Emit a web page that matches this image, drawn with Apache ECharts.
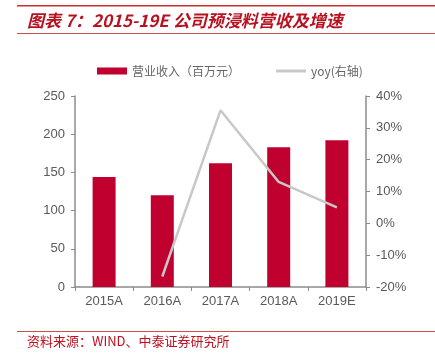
<!DOCTYPE html>
<html><head><meta charset="utf-8">
<script src="https://cdn.jsdelivr.net/npm/echarts@6/dist/echarts.min.js"></script>
<style>html,body{margin:0;padding:0;background:#fff}#c{width:435px;height:355px}</style>
</head><body><div id="c"></div>
<script>
const categories = ['2015A','2016A','2017A','2018A','2019E'];
const revenue = [144, 120, 162, 183, 192];
const yoy = [null, -16.7, 35.5, 13.0, 5.0];
const leftTicks = [0, 250, 50];
const rightTicks = [-20, 40, 10];

const chart = echarts.init(document.getElementById('c'));
const red = '#c0002f';
const gray = '#595959';
chart.setOption({
  animation: false,
  textStyle: { fontFamily: 'Liberation Sans, Arial, sans-serif' },
  grid: { left: 75, right: 69, top: 96, bottom: 68 },
  legend: {
    top: 60, left: 92, itemGap: 36, itemWidth: 30, itemHeight: 7,
    textStyle: { color: '#666', fontSize: 12, fontFamily: 'Noto Sans CJK SC' },
    data: [
      { name: '营业收入（百万元）', icon: 'rect' },
      { name: 'yoy(右轴)', icon: 'path://M0,0L30,0L30,3L0,3Z', itemStyle: { color: '#c8c8c8' } }
    ]
  },
  xAxis: {
    type: 'category', data: categories,
    axisLine: { lineStyle: { color: '#8c8c8c', width: 1.5 } },
    axisTick: { show: true, alignWithLabel: false, length: 4, lineStyle: { color: '#8c8c8c' } },
    axisLabel: { color: gray, fontSize: 13, margin: 8 }
  },
  yAxis: [{
    type: 'value', min: leftTicks[0], max: leftTicks[1], interval: leftTicks[2],
    axisLine: { show: true, lineStyle: { color: '#8c8c8c', width: 1.5 } },
    axisTick: { show: true, length: 4, lineStyle: { color: '#8c8c8c' } },
    splitLine: { show: false },
    axisLabel: { color: gray, fontSize: 13, margin: 10 }
  }, {
    type: 'value', min: rightTicks[0], max: rightTicks[1], interval: rightTicks[2],
    axisLine: { show: true, lineStyle: { color: '#8c8c8c', width: 1.5 } },
    axisTick: { show: true, length: 4, lineStyle: { color: '#8c8c8c' } },
    splitLine: { show: false },
    axisLabel: { color: gray, fontSize: 13, margin: 10, formatter: v => v + '%' }
  }],
  series: [{
    name: '营业收入（百万元）', type: 'bar', data: revenue, barWidth: 23,
    itemStyle: { color: red }
  }, {
    name: 'yoy(右轴)', type: 'line', yAxisIndex: 1, data: yoy,
    symbol: 'none', lineStyle: { color: '#c8c8c8', width: 2.5 }, itemStyle: { color: '#c8c8c8' }
  }],
  graphic: [
    { type: 'rect', shape: { x: 17, y: 5, width: 418, height: 1.5 }, style: { fill: '#c9302c' } },
    { type: 'text', left: 27, top: 12, style: { text: '图表 7：2015-19E 公司预浸料营收及增速', fill: '#b8111f', font: 'italic bold 17px "Noto Sans CJK SC", sans-serif' } },
    { type: 'rect', shape: { x: 17, y: 33, width: 418, height: 1 }, style: { fill: '#c9504d' } },
    { type: 'rect', shape: { x: 17, y: 331, width: 418, height: 1 }, style: { fill: '#c9504d' } },
    { type: 'text', left: 27, top: 335, style: { text: '资料来源：WIND、中泰证券研究所', fill: '#c0101f', font: '13px "Noto Sans CJK SC", sans-serif' } }
  ]
});
</script></body></html>
